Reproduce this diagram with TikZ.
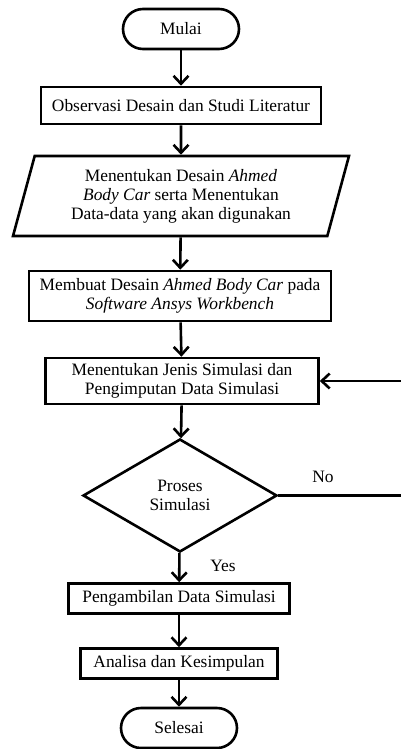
\documentclass[tikz,border=0pt]{standalone}
\usepackage{fontspec}
\setmainfont{Liberation Serif}
\usetikzlibrary{shapes.geometric,arrows.meta}

\begin{document}
\begin{tikzpicture}[x=1pt,y=-1pt,line width=2.6pt,
  every node/.style={font=\fontsize{17.4}{19}\selectfont,align=center,inner sep=2pt},
  startstop/.style={draw,rounded corners=20pt,minimum width=116pt,minimum height=40pt},
  proc/.style={draw,minimum height=30pt},
  io/.style={draw,trapezium,trapezium left angle=74,trapezium right angle=106,
    trapezium stretches=true,minimum width=336pt,minimum height=80pt},
  decide/.style={draw,diamond,minimum width=194pt,minimum height=113pt,inner sep=0pt},
  arr/.style={-{Straight Barb[length=8pt,width=15pt]}}]
\useasboundingbox (0,0) rectangle (401,749);
\node[startstop] (mulai) at (181,29) {Mulai};
\node[proc,minimum width=280pt,minimum height=37pt] (obs) at (181,105.5)
  {Observasi Desain dan Studi Literatur};
\node[io] (data) at (181,196)
  {Menentukan Desain \textit{Ahmed}\\\textit{Body Car} serta Menentukan\\Data-data yang akan digunakan};
\node[proc,minimum width=302pt,minimum height=50pt] (desain) at (180,296)
  {Membuat Desain \textit{Ahmed Body Car} pada\\\textit{Software Ansys Workbench}};
\node[proc,minimum width=273pt,minimum height=46pt] (jenis) at (182,381)
  {Menentukan Jenis Simulasi dan\\Pengimputan Data Simulasi};
\node[decide] (proses) at (180,495.5) {Proses\\Simulasi};
\node[proc,minimum width=221pt] (ambil) at (179,598.5) {Pengambilan Data Simulasi};
\node[proc,minimum width=197pt] (analisa) at (179,663.5) {Analisa dan Kesimpulan};
\node[startstop] (selesai) at (179,728) {Selesai};
\node (no) at (323,477) {No};
\node (yes) at (223,566) {Yes};
% main flow
\foreach \a/\b in {mulai/obs,obs/data,data/desain,desain/jenis,jenis/proses,proses/ambil,ambil/analisa,analisa/selesai}
  \draw[arr] (\a) -- (\b);
% loop back (No)
\coordinate (edge) at (404,0);
\draw[arr] (proses.east) -- (proses.east -| edge) |- (jenis.east);
\end{tikzpicture}
\end{document}
